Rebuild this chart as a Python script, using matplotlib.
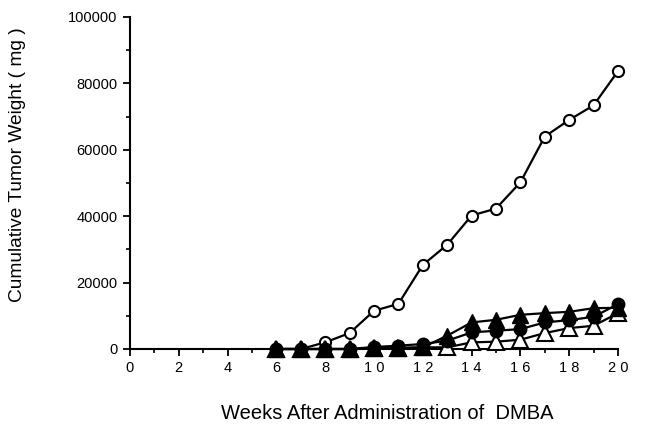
import numpy as np
import matplotlib
matplotlib.use('Agg')
import matplotlib.pyplot as plt
from matplotlib.ticker import MultipleLocator

plt.rcParams['font.family'] = ['Liberation Sans', 'DejaVu Sans']

weeks = [6, 7, 8, 9, 10, 11, 12, 13, 14, 15, 16, 17, 18, 19, 20]

open_circle = [0, 0, 2000, 4800, 11500, 13600, 25300, 31400, 40200,
               42300, 50200, 64000, 69000, 73400, 83700]
filled_circle = [0, 0, 0, 0, 600, 1000, 1500, 2500, 5000,
                 5500, 6000, 8000, 8700, 9700, 13500]
filled_triangle = [0, 0, 0, 0, 200, 300, 500, 4000, 8000,
                   8800, 10300, 10800, 11200, 12300, 12400]
open_triangle = [0, 0, 0, 0, 200, 300, 500, 500, 2000,
                 2200, 2800, 4800, 6300, 7000, 10800]

xtick_vals = list(range(0, 21, 2))
xtick_labels = ['0', '2', '4', '6', '8', '1 0', '1 2', '1 4', '1 6', '1 8', '2 0']
ytick_vals = [0, 20000, 40000, 60000, 80000, 100000]

fig = plt.figure(figsize=(6.46, 4.28), dpi=100)
ax = fig.add_axes([130 / 646, 1 - 349 / 428, (618 - 130) / 646, (349 - 17) / 428])

lw = 1.6
ax.plot(weeks, open_circle, color='black', lw=lw, marker='o', ms=8,
        mfc='white', mec='black', mew=1.5, zorder=3, clip_on=False)
ax.plot(weeks, open_triangle, color='black', lw=lw, marker='^', ms=12,
        mfc='white', mec='black', mew=1.5, zorder=4, clip_on=False)
ax.plot(weeks, filled_circle, color='black', lw=lw, marker='o', ms=9,
        mfc='black', mec='black', zorder=5, clip_on=False)
ax.plot(weeks, filled_triangle, color='black', lw=lw, marker='^', ms=12,
        mfc='black', mec='black', zorder=6, clip_on=False)

ax.set_xlim(0, 20)
ax.set_ylim(0, 100000)
ax.set_xticks(xtick_vals)
ax.set_xticklabels(xtick_labels)
ax.set_yticks(ytick_vals)
ax.xaxis.set_minor_locator(MultipleLocator(1))
ax.yaxis.set_minor_locator(MultipleLocator(10000))

for side in ['top', 'right']:
    ax.spines[side].set_visible(False)
for side in ['left', 'bottom']:
    ax.spines[side].set_linewidth(1.5)

ax.tick_params(which='major', direction='out', length=5, width=1.3, labelsize=10.5, pad=4)
ax.tick_params(which='minor', direction='out', length=3, width=1.2)

ax.set_ylabel('Cumulative Tumor Weight ( mg )', fontsize=13.8)
ax.set_xlabel('Weeks After Administration of  DMBA', fontsize=14.5)
ax.yaxis.set_label_coords(-0.213, 0.554)
ax.xaxis.set_label_coords(0.527, -0.166)

fig.savefig('out.png', dpi=100)
plt.close(fig)
